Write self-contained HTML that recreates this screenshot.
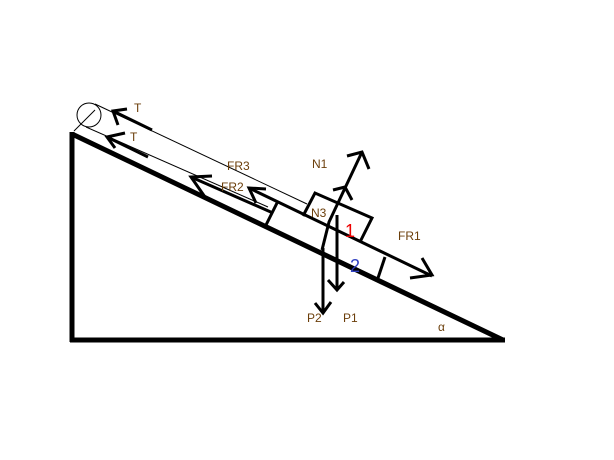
<!DOCTYPE html>
<html><head><meta charset="utf-8"><style>
html,body{margin:0;padding:0;background:#fff;}
svg{display:block;}
text{font-family:"Liberation Sans",sans-serif;font-size:12px;fill:#6b3e0a;}
</style></head><body>
<svg width="614" height="460" viewBox="0 0 614 460">
<g stroke="#000" fill="none" stroke-linecap="butt">
 <!-- triangle -->
 <line x1="72" y1="132" x2="72" y2="342" stroke-width="5"/>
 <line x1="70" y1="340" x2="505" y2="340" stroke-width="5"/>
 <line x1="72" y1="134" x2="503" y2="340" stroke-width="5"/>
 <!-- pulley -->
 <circle cx="89" cy="115" r="12" stroke-width="1"/>
 <line x1="74" y1="131" x2="95" y2="110" stroke-width="1"/>
 <!-- strings -->
 <line x1="95" y1="104" x2="307" y2="204" stroke-width="1"/>
 <line x1="86" y1="127" x2="268" y2="207" stroke-width="1"/>
 <!-- T arrows -->
 <line x1="152" y1="130" x2="113" y2="111" stroke-width="3"/>
 <polyline points="127,109 113,111 118,125" stroke-width="3"/>
 <line x1="148" y1="157" x2="107" y2="137" stroke-width="3"/>
 <polyline points="125,133 107,137 115,148" stroke-width="3"/>
 <!-- FR3 arrow -->
 <line x1="273" y1="213" x2="191" y2="177" stroke-width="3"/>
 <polyline points="212,176 191,177 205,197" stroke-width="3"/>
 <!-- block 2 top edge with FR2 and FR1 -->
 <line x1="249" y1="188" x2="432" y2="276" stroke-width="3"/>
 <polyline points="266,189 249,188 256,203" stroke-width="3"/>
 <polyline points="422,258 432,275 410,278" stroke-width="3"/>
 <!-- block 2 sides -->
 <line x1="277" y1="203" x2="265" y2="227" stroke-width="3"/>
 <line x1="385" y1="257" x2="378" y2="278" stroke-width="3"/>
 <!-- block 1 -->
 <polyline points="303,216 315,193 372,218 360,242" stroke-width="3"/>
 <!-- N1 / N3 -->
 <polyline points="322,250 329,222 362,152" stroke-width="3"/>
 <polyline points="347,156 362,152 369,169" stroke-width="3"/>
 <polyline points="333,190 345,187 352,200" stroke-width="3"/>
 <!-- P1, P2 -->
 <line x1="337" y1="215" x2="337" y2="290" stroke-width="3"/>
 <polyline points="328,280 337,290 344,282" stroke-width="3"/>
 <line x1="323" y1="248" x2="323" y2="313" stroke-width="3"/>
 <polyline points="315,303 323,313 331,302" stroke-width="3"/>
</g>
<text x="134" y="112">T</text>
<text x="130" y="141">T</text>
<text x="227" y="170">FR3</text>
<text x="221" y="191">FR2</text>
<text x="312" y="168">N1</text>
<text x="311" y="217">N3</text>
<text x="398" y="240">FR1</text>
<text x="307" y="322">P2</text>
<text x="343" y="322">P1</text>
<text x="438" y="331">α</text>
<text x="345" y="237" style="fill:#e00;font-size:18px">1</text>
<text x="350" y="272" style="fill:#3040c0;font-size:18px">2</text>
</svg>
</body></html>
